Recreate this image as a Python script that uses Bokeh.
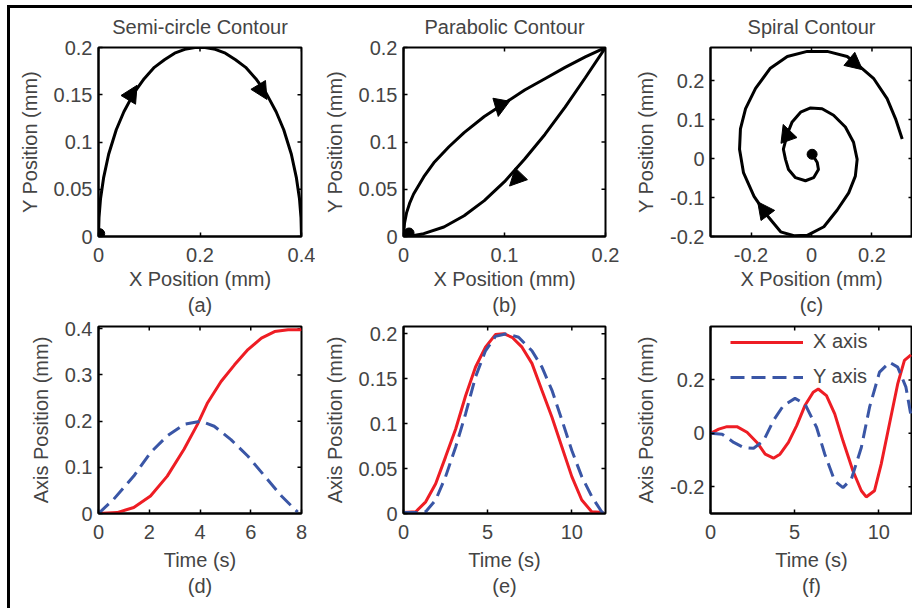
import math
from bokeh.plotting import figure
from bokeh.layouts import column, row
from bokeh.models import Range1d, FixedTicker, Arrow, NormalHead, ColumnDataSource
from bokeh.embed import file_html
from bokeh.resources import INLINE

FONT = "Liberation Sans"
FS = "20px"
RED = "#ee1d24"
BLUE = "#3a56a6"

# ---------------- data ----------------
# (a) semi-circle contour
a_x = [0, 0.001, 0.004, 0.01, 0.02, 0.035, 0.05, 0.07, 0.09, 0.11, 0.13, 0.15, 0.17, 0.19, 0.2,
       0.21, 0.23, 0.25, 0.27, 0.29, 0.31, 0.33, 0.35, 0.365, 0.38, 0.39, 0.396, 0.399, 0.4]
a_y = [0, 0.02, 0.04, 0.062, 0.087, 0.113, 0.132, 0.152, 0.167, 0.179, 0.187, 0.194, 0.198, 0.2, 0.2,
       0.2, 0.198, 0.194, 0.187, 0.179, 0.167, 0.152, 0.132, 0.113, 0.087, 0.062, 0.04, 0.02, 0]
# arrowheads: (tail -> tip) points read along the path
a_arr_x0 = [0.058, 0.314]
a_arr_y0 = [0.144, 0.161]
a_arr_x1 = [0.076, 0.332]
a_arr_y1 = [0.160, 0.145]
a_start = ([0.0024], [0.003])

# (b) parabolic contour
b_up_x = [0, 0.001, 0.003, 0.006, 0.01, 0.02, 0.03, 0.045, 0.06, 0.08, 0.1, 0.12, 0.14, 0.16, 0.18, 0.2]
b_up_y = [0, 0.014, 0.025, 0.035, 0.045, 0.063, 0.078, 0.095, 0.11, 0.127, 0.141, 0.155, 0.167, 0.179, 0.19, 0.2]
b_lo_x = [0.2, 0.18, 0.16, 0.14, 0.12, 0.1, 0.08, 0.06, 0.04, 0.02, 0.005]
b_lo_y = [0.2, 0.168, 0.137, 0.108, 0.082, 0.058, 0.038, 0.022, 0.01, 0.003, 0.0]
b_arr_x0 = [0.0967, 0.1174]
b_arr_y0 = [0.144, 0.0672]
b_arr_x1 = [0.0938, 0.105]
b_arr_y1 = [0.127, 0.0534]
b_start = ([0.0055], [0.0037])

# (c) spiral contour
c_x = [0.002, 0.019, 0.023, 0.007, -0.02, -0.053, -0.076, -0.086, -0.093, -0.08, -0.064, -0.036,
       -0.003, 0.035, 0.073, 0.112, 0.139, 0.151, 0.145, 0.123, 0.085, 0.041, -0.014, -0.058,
       -0.102, -0.148, -0.19, -0.225, -0.238, -0.235, -0.218, -0.185, -0.136, -0.08, -0.014,
       0.052, 0.118, 0.16, 0.205, 0.25, 0.278, 0.3]
c_y = [0.011, -0.010, -0.028, -0.049, -0.057, -0.049, -0.028, -0.002, 0.024, 0.063, 0.094, 0.119,
       0.13, 0.128, 0.111, 0.081, 0.042, -0.002, -0.045, -0.088, -0.132, -0.175, -0.197, -0.198,
       -0.188, -0.145, -0.097, -0.036, 0.024, 0.076, 0.128, 0.18, 0.232, 0.262, 0.275,
       0.275, 0.262, 0.236, 0.206, 0.154, 0.102, 0.05]
c_arr_x0 = [-0.073, -0.1425, 0.1223]
c_arr_y0 = [0.0434, -0.148, 0.2577]
c_arr_x1 = [-0.0936, -0.178, 0.1686]
c_arr_y1 = [0.0875, -0.111, 0.228]
c_start = ([0.002], [0.011])

# (d) semi-circle axis positions
d_tx = [0, 0.73, 1.39, 2.05, 2.71, 3.37, 3.9, 4.3, 4.83, 5.36, 5.89, 6.42, 6.94, 7.47, 7.94, 8.0]
d_x = [0, 0.002, 0.013, 0.038, 0.081, 0.139, 0.193, 0.24, 0.286, 0.322, 0.355, 0.38, 0.394, 0.398, 0.398, 0.399]
d_ty = [0, 0.6, 1.39, 2.05, 2.71, 3.37, 4.03, 4.56, 5.22, 5.89, 6.55, 7.21, 7.74, 7.85]
d_y = [0, 0.031, 0.081, 0.132, 0.168, 0.193, 0.2, 0.189, 0.16, 0.124, 0.081, 0.038, 0.009, 0.003]

# (e) parabolic axis positions
e_tx = [0, 0.73, 1.32, 1.91, 2.5, 3.1, 3.69, 4.28, 4.87, 5.46, 5.96, 6.45, 7.04, 7.63, 8.22, 8.82,
        9.41, 10.0, 10.59, 11.18, 11.87]
e_x = [0.001, 0.002, 0.013, 0.033, 0.063, 0.094, 0.131, 0.163, 0.185, 0.199, 0.2, 0.196, 0.185,
       0.167, 0.137, 0.107, 0.074, 0.041, 0.015, 0.002, 0.001]
e_ty = [0, 0.73, 1.32, 1.91, 2.5, 3.1, 3.69, 4.28, 4.87, 5.46, 6.15, 6.84, 7.63, 8.22, 8.82, 9.41,
        10.0, 10.59, 11.18, 11.77, 11.9]
e_y = [0.001, 0.001, 0.002, 0.015, 0.041, 0.074, 0.111, 0.152, 0.181, 0.197, 0.2, 0.196, 0.181,
       0.163, 0.137, 0.104, 0.07, 0.041, 0.019, 0.002, 0.0]

# (f) spiral axis positions
f_tx = [0, 0.49, 0.98, 1.57, 2.17, 2.76, 3.25, 3.74, 4.13, 4.63, 5.12, 5.61, 6.1, 6.4, 6.89, 7.38,
        7.87, 8.46, 8.96, 9.25, 9.74, 10.14, 10.63, 11.12, 11.52, 11.91]
f_x = [0, 0.016, 0.025, 0.025, 0.004, -0.034, -0.078, -0.093, -0.078, -0.034, 0.029, 0.104, 0.154,
       0.166, 0.141, 0.073, -0.028, -0.14, -0.215, -0.238, -0.215, -0.115, 0.035, 0.185, 0.273, 0.294]
f_ty = [0, 0.69, 1.38, 1.97, 2.56, 3.15, 3.74, 4.33, 5.02, 5.61, 6.3, 6.79, 7.38, 7.87, 8.37, 8.96,
        9.45, 10.04, 10.63, 11.12, 11.61, 11.91]
f_y = [0, -0.003, -0.034, -0.053, -0.056, -0.028, 0.048, 0.104, 0.131, 0.11, 0.023, -0.078, -0.178,
       -0.203, -0.171, -0.053, 0.098, 0.229, 0.266, 0.248, 0.173, 0.066]

# ticks
a_xt, a_xl = [0, 0.2, 0.4], ["0", "0.2", "0.4"]
ab_yt, ab_yl = [0, 0.05, 0.1, 0.15, 0.2], ["0", "0.05", "0.1", "0.15", "0.2"]
b_xt, b_xl = [0, 0.1, 0.2], ["0", "0.1", "0.2"]
c_xt, c_xl = [-0.2, 0, 0.2], ["-0.2", "0", "0.2"]
c_yt, c_yl = [-0.2, -0.1, 0, 0.1, 0.2], ["-0.2", "-0.1", "0", "0.1", "0.2"]
d_xt, d_xl = [0, 2, 4, 6, 8], ["0", "2", "4", "6", "8"]
d_yt, d_yl = [0, 0.1, 0.2, 0.3, 0.4], ["0", "0.1", "0.2", "0.3", "0.4"]
ef_xt, ef_xl = [0, 5, 10], ["0", "5", "10"]
e_yt, e_yl = [0, 0.05, 0.1, 0.15, 0.2], ["0", "0.05", "0.1", "0.15", "0.2"]
f_yt, f_yl = [-0.2, 0, 0.2], ["-0.2", "0", "0.2"]


def make_fig(w, h, bl, br, bt, bb, xr, yr, xt, xl, yt, yl, xlab, ylab, sub, title=None,
             tick_standoff=11, label_standoff=3, line_h=1.2):
    p = figure(width=w, height=h, x_range=Range1d(*xr), y_range=Range1d(*yr),
               output_backend="svg", toolbar_location=None,
               min_border_left=bl, min_border_right=br, min_border_top=bt, min_border_bottom=bb)
    p.xgrid.visible = False
    p.ygrid.visible = False
    p.outline_line_color = "black"
    p.outline_line_width = 2
    p.outline_line_alpha = 1
    p.background_fill_color = "white"
    p.border_fill_color = "white"
    for ax, ticks, labels, lab in ((p.xaxis[0], xt, xl, xlab + "\n" + sub), (p.yaxis[0], yt, yl, ylab)):
        ax.ticker = FixedTicker(ticks=ticks)
        ax.major_label_overrides = {t: s for t, s in zip(ticks, labels)}
        ax.axis_label = lab
        ax.axis_label_text_font = FONT
        ax.axis_label_text_font_size = FS
        ax.axis_label_text_font_style = "normal"
        ax.axis_label_text_line_height = line_h
        ax.major_label_text_font = FONT
        ax.major_label_text_font_size = FS
        ax.major_tick_in = 4
        ax.major_tick_out = 0
        ax.major_tick_line_width = 1.5
        ax.minor_tick_line_color = None
        ax.axis_line_width = 2
    p.xaxis[0].major_label_standoff = tick_standoff
    p.xaxis[0].axis_label_standoff = label_standoff
    p.yaxis[0].major_label_standoff = 6
    p.yaxis[0].axis_label_standoff = 10
    # mirrored inward ticks on the top and right edges (half of each dash is clipped by the frame)
    p.scatter(xt, [yr[1]] * len(xt), marker="dash", angle=math.pi / 2, size=8,
              line_color="black", line_width=1.5)
    p.scatter([xr[1]] * len(yt), yt, marker="dash", size=8, line_color="black", line_width=1.5)
    if title:
        p.title.text = title
        p.title.align = "center"
        p.title.vertical_align = "top"
        p.title.text_font = FONT
        p.title.text_font_size = FS
        p.title.text_font_style = "normal"
        p.title.standoff = 15
    return p


def add_heads(p, x0, y0, x1, y1):
    src = ColumnDataSource(dict(x0=x0, y0=y0, x1=x1, y1=y1))
    head = NormalHead(size=17, fill_color="black", line_color="black", line_width=1)
    p.add_layout(Arrow(end=head, source=src, x_start="x0", y_start="y0", x_end="x1", y_end="y1",
                       line_alpha=0))


R1H = 310
R2H = 290

pa = make_fig(305, R1H, 88, 14, 39, 82, (0, 0.4), (0, 0.2), a_xt, a_xl, ab_yt, ab_yl,
              "X Position (mm)", "Y Position (mm)", "(a)", "Semi-circle Contour")
pa.line(a_x, a_y, line_color="black", line_width=3)
add_heads(pa, a_arr_x0, a_arr_y0, a_arr_x1, a_arr_y1)
pa.scatter(*a_start, marker="circle", size=10, color="black")

pb = make_fig(305, R1H, 88, 15, 39, 82, (0, 0.2), (0, 0.2), b_xt, b_xl, ab_yt, ab_yl,
              "X Position (mm)", "Y Position (mm)", "(b)", "Parabolic Contour")
pb.line(b_up_x, b_up_y, line_color="black", line_width=3)
pb.line(b_lo_x, b_lo_y, line_color="black", line_width=3)
add_heads(pb, b_arr_x0, b_arr_y0, b_arr_x1, b_arr_y1)
pb.scatter(*b_start, marker="circle", size=10, color="black")

pc = make_fig(292, R1H, 90, 0, 39, 82, (-0.334, 0.334), (-0.2, 0.285), c_xt, c_xl, c_yt, c_yl,
              "X Position (mm)", "Y Position (mm)", "(c)", "Spiral Contour")
pc.line(c_x, c_y, line_color="black", line_width=3)
add_heads(pc, c_arr_x0, c_arr_y0, c_arr_x1, c_arr_y1)
pc.scatter(*c_start, marker="circle", size=10, color="black")

pd = make_fig(305, R2H, 88, 14, 8, 95, (0, 8), (0, 0.405), d_xt, d_xl, d_yt, d_yl,
              "Time (s)", "Axis Position (mm)", "(d)", tick_standoff=11, label_standoff=7)
pd.line(d_tx, d_x, line_color=RED, line_width=3)
pd.line(d_ty, d_y, line_color=BLUE, line_width=3, line_dash="14 7")

pe = make_fig(305, R2H, 88, 15, 8, 95, (0, 12), (0, 0.208), ef_xt, ef_xl, e_yt, e_yl,
              "Time (s)", "Axis Position (mm)", "(e)", tick_standoff=11, label_standoff=7)
pe.line(e_tx, e_x, line_color=RED, line_width=3)
pe.line(e_ty, e_y, line_color=BLUE, line_width=3, line_dash="14 7")

pf = make_fig(292, R2H, 90, 0, 8, 95, (0, 12), (-0.3, 0.4), ef_xt, ef_xl, f_yt, f_yl,
              "Time (s)", "Axis Position (mm)", "(f)", tick_standoff=11, label_standoff=7)
pf.line(f_tx, f_x, line_color=RED, line_width=3, legend_label="X axis")
pf.line(f_ty, f_y, line_color=BLUE, line_width=3, line_dash="14 7", legend_label="Y axis")
lg = pf.legend[0]
lg.location = (20, 125)
lg.padding = 0
lg.margin = 0
lg.spacing = 12
lg.glyph_width = 73
lg.glyph_height = 20
lg.label_height = 20
lg.label_standoff = 10
lg.label_text_font = FONT
lg.label_text_font_size = FS
lg.border_line_color = None
lg.background_fill_alpha = 0

layout = column(row(pa, pb, pc), row(pd, pe, pf),
                styles={"margin-left": "7px", "margin-top": "5px",
                        "border-left": "3px solid black", "border-top": "3px solid black"})
open("out.html", "w").write(file_html(layout, INLINE))
